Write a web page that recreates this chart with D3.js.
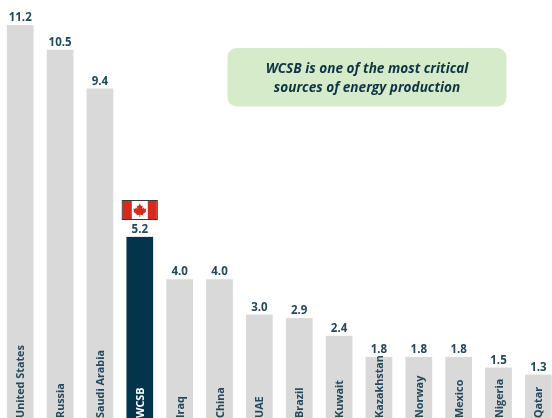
<!DOCTYPE html>
<html>
<head>
<meta charset="utf-8">
<script src="https://cdn.jsdelivr.net/npm/d3@7"></script>
<style>
  html, body { margin: 0; padding: 0; background: #fff; overflow: hidden; }
  text { font-family: "Open Sans", sans-serif; }
  svg { display: block; filter: blur(0.4px); }
</style>
</head>
<body>
<div id="chart"></div>
<script>
var categories = ["United States", "Russia", "Saudi Arabia", "WCSB", "Iraq", "China", "UAE",
  "Brazil", "Kuwait", "Kazakhstan", "Norway", "Mexico", "Nigeria", "Qatar"];
var values = [11.2, 10.5, 9.4, 5.2, 4.0, 4.0, 3.0, 2.9, 2.4, 1.8, 1.8, 1.8, 1.5, 1.3];
var calloutLines = ["WCSB is one of the most critical", "sources of energy production"];

var svgWidth = 552;
var svgHeight = 418;
var navy = "#04344c";

var svg = d3.select("#chart")
  .append("svg")
  .attr("width", svgWidth)
  .attr("height", svgHeight);

// Bars run off the bottom of the picture, like the reference crop
var x = d3.scaleBand()
  .domain(categories)
  .range([0.3, 558.3])
  .paddingInner(0.33)
  .paddingOuter(0.165);

var y = d3.scaleLinear()
  .domain([0, 11.2])
  .range([420.5, 25]);

svg.selectAll("rect.bar")
  .data(categories)
  .enter()
  .append("rect")
  .attr("class", "bar")
  .attr("x", d => x(d))
  .attr("y", (d, i) => y(values[i]))
  .attr("width", x.bandwidth())
  .attr("height", (d, i) => y(0) - y(values[i]))
  .attr("fill", d => d === "WCSB" ? navy : "#d9d9d9");

// Value labels
svg.selectAll("text.value")
  .data(categories)
  .enter()
  .append("text")
  .attr("class", "value")
  .attr("x", d => x(d) + x.bandwidth() / 2)
  .attr("y", (d, i) => y(values[i]) - 4)
  .attr("text-anchor", "middle")
  .attr("font-size", "11.5px")
  .attr("font-weight", 700)
  .attr("fill", "#23495c")
  .text((d, i) => values[i].toFixed(1));

// Category labels, rotated inside the bars
svg.selectAll("text.cat")
  .data(categories)
  .enter()
  .append("text")
  .attr("class", "cat")
  .attr("transform", d => `translate(${x(d) + x.bandwidth() / 2 + 4}, 418) rotate(-90)`)
  .attr("font-size", "10.8px")
  .attr("font-weight", 700)
  .attr("fill", d => d === "WCSB" ? "#ffffff" : "#23495c")
  .text(d => d);

// Callout box
svg.append("rect")
  .attr("x", 227.5)
  .attr("y", 48)
  .attr("width", 279)
  .attr("height", 58.5)
  .attr("rx", 9)
  .attr("fill", "#d5ebca");

svg.selectAll("text.callout")
  .data(calloutLines)
  .enter()
  .append("text")
  .attr("class", "callout")
  .attr("x", 367)
  .attr("y", (d, i) => 73 + i * 18.5)
  .attr("text-anchor", "middle")
  .attr("font-size", "13.6px")
  .attr("font-weight", 700)
  .attr("font-style", "italic")
  .attr("fill", "#0d3345")
  .text(d => d);

// Canadian flag above the WCSB bar
var flag = svg.append("g")
  .attr("transform", `translate(${x("WCSB") + x.bandwidth() / 2}, 210)`);

flag.append("rect")
  .attr("x", -17.5).attr("y", -9.5)
  .attr("width", 35).attr("height", 19)
  .attr("fill", "#ffffff")
  .attr("stroke", "#3a3a3a")
  .attr("stroke-width", 1);
flag.append("rect")
  .attr("x", -17).attr("y", -9)
  .attr("width", 9).attr("height", 18)
  .attr("fill", "#d52b1e");
flag.append("rect")
  .attr("x", 8).attr("y", -9)
  .attr("width", 9).attr("height", 18)
  .attr("fill", "#d52b1e");
flag.append("path")
  .attr("d", "M0,-6.5 L1.5,-3.8 L3,-4.6 L2.4,-1 L4,-2.4 L4.6,-1 L6.6,-1.4 L5.8,1 L6.6,1.6 L3,4.2 L3.4,5.2 L0.4,4.8 L0.4,7 L-0.4,7 L-0.4,4.8 L-3.4,5.2 L-3,4.2 L-6.6,1.6 L-5.8,1 L-6.6,-1.4 L-4.6,-1 L-4,-2.4 L-2.4,-1 L-3,-4.6 L-1.5,-3.8 Z")
  .attr("fill", "#d52b1e");
</script>
</body>
</html>
